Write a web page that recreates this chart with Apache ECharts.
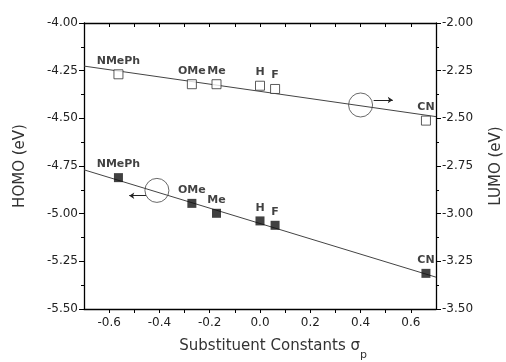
<!DOCTYPE html>
<html><head><meta charset="utf-8">
<script src="https://cdn.jsdelivr.net/npm/echarts@6/dist/echarts.min.js"></script>
<style>html,body{margin:0;padding:0;background:#fff}#c{width:506px;height:362px}</style>
</head><body><div id="c"></div>
<script>
// Substituents and Hammett constants
const substituents = ['NMePh', 'OMe', 'Me', 'H', 'F', 'CN'];
const sigmaP = [-0.563, -0.271, -0.173, 0.0, 0.06, 0.66];
// Orbital energies (eV)
const homo = [-4.811, -4.946, -4.998, -5.038, -5.061, -5.313];
const lumo = [-2.269, -2.321, -2.321, -2.329, -2.346, -2.512];
// Linear fits (end points)
const fitSigma = [-0.7, 0.7];
const homoFit = [-4.770, -5.333];
const lumoFit = [-2.226, -2.491];
// Circle markers pointing to the relevant axis
const homoCircle = [-0.41, -4.878];
const lumoCircle = [0.40, -2.430];
const homoArrow = [[-0.453, -4.906], [-0.52, -4.906]];
const lumoArrow = [[0.452, -2.404], [0.528, -2.404]];
// Tick labels
const xTicks = [-0.6, -0.4, -0.2, 0.0, 0.2, 0.4, 0.6];
const xMinorTicks = [-0.6, -0.5, -0.4, -0.3, -0.2, -0.1, 0.0, 0.1, 0.2, 0.3, 0.4, 0.5, 0.6];

const FONT = 'DejaVu Sans';
const chart = echarts.init(document.getElementById('c'));

function pts(xs, ys) { return xs.map((x, i) => [x, ys[i]]); }
function lbl(xs, ys) { return xs.map((x, i) => ({ value: [x, ys[i]], name: substituents[i] })); }

const axisLineStyle = { color: '#000', width: 1.3 };
const labelStyle = {
  show: true, position: 'top', distance: 3, formatter: '{b}',
  fontFamily: FONT, fontWeight: 'bold', fontSize: 11, color: '#111'
};

chart.setOption({
  animation: false,
  backgroundColor: '#fff',
  grid: { left: 84, right: 70, top: 23, bottom: 53, containLabel: false },
  xAxis: [{
    type: 'value', min: -0.7, max: 0.7, position: 'bottom',
    axisLine: { show: true, onZero: false, lineStyle: axisLineStyle },
    axisTick: { show: true, inside: false, length: 4, customValues: xMinorTicks, lineStyle: { color: '#000' } },
    axisLabel: { customValues: xTicks, formatter: v => v.toFixed(1), fontFamily: FONT, fontSize: 12, color: '#222', margin: 8 },
    splitLine: { show: false }
  }, {
    type: 'value', min: -0.7, max: 0.7, position: 'top',
    axisLine: { show: true, onZero: false, lineStyle: axisLineStyle },
    axisTick: { show: true, inside: true, length: 4, customValues: xMinorTicks, lineStyle: { color: '#000' } },
    axisLabel: { show: false },
    splitLine: { show: false }
  }],
  yAxis: [{
    type: 'value', min: -5.5, max: -4.0, interval: 0.25, position: 'left',
    axisLine: { show: true, onZero: false, lineStyle: axisLineStyle },
    axisTick: { show: true, inside: false, length: 5, lineStyle: { color: '#000' } },
    minorTick: { show: true, splitNumber: 2, length: 3, lineStyle: { color: '#000' } },
    axisLabel: { formatter: v => v.toFixed(2), fontFamily: FONT, fontSize: 12, color: '#222', margin: 6 },
    splitLine: { show: false }
  }, {
    type: 'value', min: -3.5, max: -2.0, interval: 0.25, position: 'right',
    axisLine: { show: true, onZero: false, lineStyle: axisLineStyle },
    axisTick: { show: true, inside: false, length: 5, lineStyle: { color: '#000' } },
    minorTick: { show: true, splitNumber: 2, length: 3, lineStyle: { color: '#000' } },
    axisLabel: { formatter: v => v.toFixed(2), fontFamily: FONT, fontSize: 12, color: '#222', margin: 6 },
    splitLine: { show: false }
  }],
  series: [
    { type: 'line', xAxisIndex: 0, yAxisIndex: 0, data: pts(fitSigma, homoFit), symbol: 'none',
      lineStyle: { color: '#444', width: 1 }, silent: true, z: 1 },
    { type: 'line', xAxisIndex: 0, yAxisIndex: 1, data: pts(fitSigma, lumoFit), symbol: 'none',
      lineStyle: { color: '#444', width: 1 }, silent: true, z: 1 },
    { type: 'scatter', xAxisIndex: 0, yAxisIndex: 0, data: [homoCircle], symbol: 'circle', symbolSize: 24,
      itemStyle: { color: 'rgba(0,0,0,0)', borderColor: '#444', borderWidth: 1 }, z: 2 },
    { type: 'scatter', xAxisIndex: 0, yAxisIndex: 1, data: [lumoCircle], symbol: 'circle', symbolSize: 24,
      itemStyle: { color: 'rgba(0,0,0,0)', borderColor: '#444', borderWidth: 1 }, z: 2 },
    { type: 'lines', coordinateSystem: 'cartesian2d', xAxisIndex: 0, yAxisIndex: 0,
      data: [{ coords: homoArrow }], symbol: ['none', 'arrow'], symbolSize: 5,
      lineStyle: { color: '#222', width: 1, opacity: 1 }, z: 2 },
    { type: 'lines', coordinateSystem: 'cartesian2d', xAxisIndex: 0, yAxisIndex: 1,
      data: [{ coords: lumoArrow }], symbol: ['none', 'arrow'], symbolSize: 5,
      lineStyle: { color: '#222', width: 1, opacity: 1 }, z: 2 },
    { type: 'scatter', name: 'HOMO', xAxisIndex: 0, yAxisIndex: 0, data: lbl(sigmaP, homo),
      symbol: 'rect', symbolSize: 9, itemStyle: { color: '#111' }, label: labelStyle, z: 3 },
    { type: 'scatter', name: 'LUMO', xAxisIndex: 0, yAxisIndex: 1, data: lbl(sigmaP, lumo),
      symbol: 'rect', symbolSize: 9,
      itemStyle: { color: '#fff', borderColor: '#333', borderWidth: 1 }, label: labelStyle, z: 3 }
  ],
  graphic: [
    { type: 'text', x: 20, y: 166, rotation: Math.PI / 2,
      style: { text: 'HOMO (eV)', fontFamily: FONT, fontSize: 15, fill: '#333', align: 'center', verticalAlign: 'middle' } },
    { type: 'text', x: 496, y: 166, rotation: Math.PI / 2,
      style: { text: 'LUMO (eV)', fontFamily: FONT, fontSize: 15, fill: '#333', align: 'center', verticalAlign: 'middle' } },
    { type: 'text', x: 360, y: 346,
      style: { text: 'Substituent Constants σ', fontFamily: FONT, fontSize: 15, fill: '#333', align: 'right', verticalAlign: 'middle' } },
    { type: 'text', x: 360, y: 355,
      style: { text: 'p', fontFamily: FONT, fontSize: 11, fill: '#333', align: 'left', verticalAlign: 'middle' } }
  ]
});
</script>
</body></html>
